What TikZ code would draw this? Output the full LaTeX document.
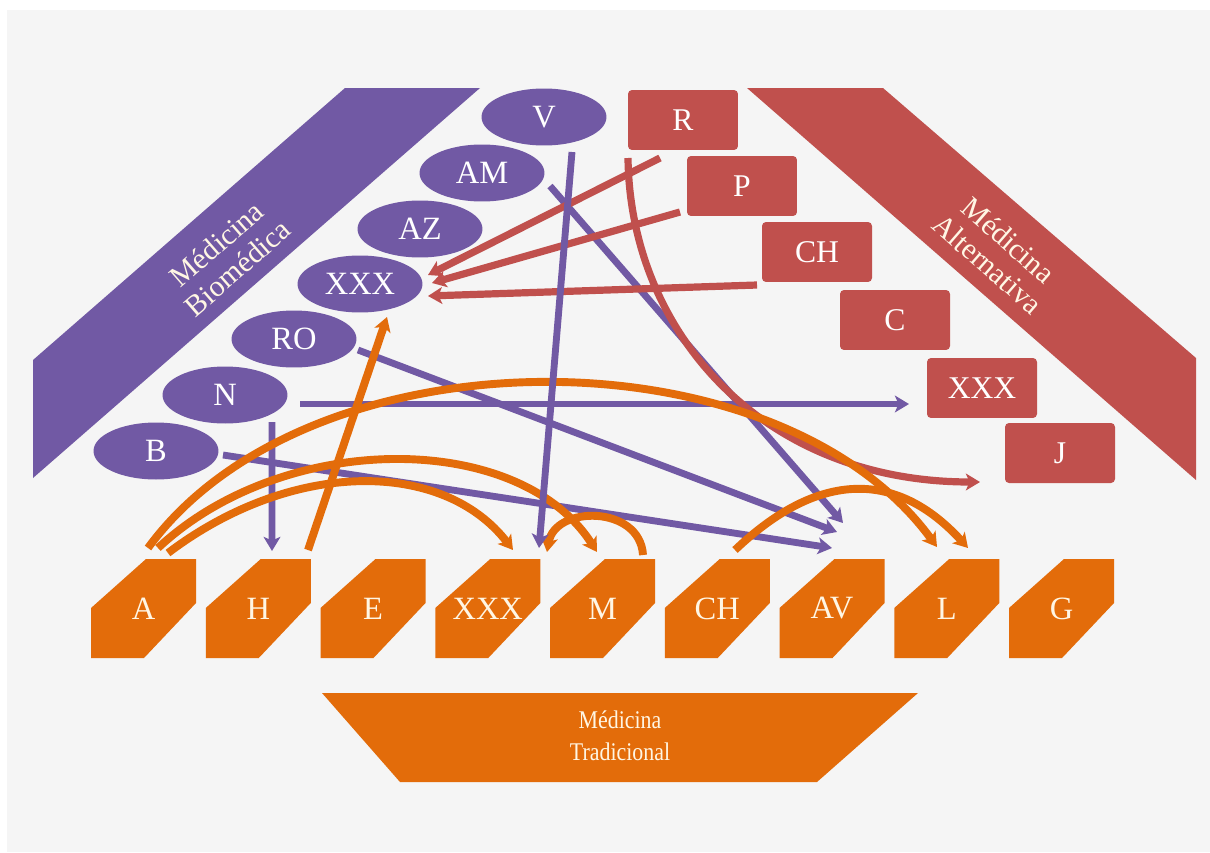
\documentclass[tikz,border=0pt]{standalone}
\usepackage{fontspec}
\setmainfont{Liberation Serif}
\usetikzlibrary{arrows.meta,shapes.geometric}
\definecolor{bgc}{HTML}{F5F5F5}
\definecolor{bio}{HTML}{7159A4}
\definecolor{alt}{HTML}{C0504D}
\definecolor{tra}{HTML}{E36C0A}
\definecolor{cream}{HTML}{FFF6E4}
\begin{document}
\begin{tikzpicture}[x=0.02cm,y=-0.02cm,
  bioell/.style={ellipse, fill=bio, minimum width=2.5cm, minimum height=1.14cm, inner sep=0pt, text=white, font=\fontsize{18.5}{20}\selectfont},
  altbox/.style={rectangle, rounded corners=0.08cm, fill=alt, minimum width=2.2cm, minimum height=1.2cm, inner sep=0pt, text=white, font=\fontsize{18}{20}\selectfont},
  tralab/.style={inner sep=0pt, minimum width=2.1cm, minimum height=1.98cm, text=cream, font=\fontsize{18.5}{20}\selectfont},
  bandtext/.style={text=cream, align=center, inner sep=0pt, font=\fontsize{17}{18}\selectfont},
  tip/.style={-{Stealth[length=8pt,width=9.5pt,inset=2pt]}},
  biol/.style={tip, draw=bio, line width=3.9pt},
  altl/.style={tip, draw=alt, line width=4.1pt},
  tral/.style={tip, draw=tra, line width=4.5pt},
]
\useasboundingbox (0,0) rectangle (1210,852);
\fill[white] (0,0) rectangle (1210,852);
\fill[bgc] (7,10) rectangle (1210,852);

% bands
\fill[bio] (345,88) -- (480,88) -- (33,478) -- (33,360) -- cycle;
\node[bandtext, rotate=41] (bandbio) at (227,256) {Médicina\\Biomédica};
\fill[alt] (747,88) -- (883,88) -- (1196,358) -- (1196,480) -- cycle;
\node[bandtext, rotate=-41] (bandalt) at (998,252) {Médicina\\Alternativa};
\fill[tra] (322,693) -- (918,693) -- (817,782) -- (400,782) -- cycle;
\node[bandtext, font=\fontsize{14.5}{18}\selectfont, xscale=0.86] (bandtra) at (620,736) {Médicina\\Tradicional};

% biomedical ellipses
\node[bioell] (V) at (544,117) {V};
\node[bioell] (AM) at (482,173) {AM};
\node[bioell] (AZ) at (420,229) {AZ};
\node[bioell] (bX) at (360,284) {XXX};
\node[bioell] (RO) at (294,339) {RO};
\node[bioell] (N) at (225,395) {N};
\node[bioell] (B) at (156,451) {B};

% alternative boxes
\node[altbox] (R) at (683,120) {R};
\node[altbox] (P) at (742,186) {P};
\node[altbox] (aCH) at (817,252) {CH};
\node[altbox] (C) at (895,320) {C};
\node[altbox] (aX) at (982,388) {XXX};
\node[altbox] (J) at (1060,453) {J};

% traditional boxes
\foreach \i/\nm/\lab in {0/tA/A,1/tH/H,2/tE/E,3/tX/XXX,4/tM/M,5/tCH/CH,6/tAV/AV,7/tL/L,8/tG/G}{
  \pgfmathsetmacro{\xl}{91+114.75*\i}
  \fill[tra] (\xl+55,559) -- (\xl+105,559) -- (\xl+105,603) -- (\xl+53,658) -- (\xl,658) -- (\xl,608) -- cycle;
  \node[tralab] (\nm) at (\xl+52.5,608.5) {\lab};
}

% purple connectors
\draw[biol] ([shift={(68,13)}]AM.center) -- ([shift={(11,-85.5)}]tAV.center);
\draw[biol] ([shift={(64,11)}]RO.center) -- ([shift={(5,-76.5)}]tAV.center);
\draw[biol] ([shift={(75,9)}]N.center) -- ([shift={(-73,16)}]aX.center);
\draw[biol] ([shift={(47,27)}]N.center) -- ([shift={(13.75,-57.5)}]tH.center);
\draw[biol] ([shift={(67,4)}]B.center) -- ([shift={(0,-60.5)}]tAV.center);

% red connectors
\draw[altl] ([shift={(-23,38)}]R.center) -- ([shift={(68,-9)}]bX.center);
\draw[altl] ([shift={(-62,26)}]P.center) -- ([shift={(72,-1)}]bX.center);
\draw[altl] ([shift={(-60,33)}]aCH.center) -- ([shift={(68,12)}]bX.center);
\draw[altl] ([shift={(-55,38)}]R.center) .. controls (630,330) and (760,482) .. ([shift={(-80,29)}]J.center);

% orange connectors
\draw[tral] ([shift={(49.75,-58.5)}]tH.center) -- ([shift={(27,33)}]bX.center);
\draw[tral] ([shift={(4.5,-60.5)}]tA.center) .. controls (309,328) and (777,328) .. ([shift={(-9.75,-61.5)}]tL.center);
\draw[tral] ([shift={(14.5,-60.5)}]tA.center) .. controls (284,430) and (519,430) .. ([shift={(-5.5,-56.5)}]tM.center);
\draw[tral] ([shift={(24.5,-55.5)}]tA.center) .. controls (292,459) and (443,459) .. ([shift={(25.25,-58.5)}]tX.center);
\draw[tral] ([shift={(40.5,-53.5)}]tM.center) .. controls (640,505) and (555,505) .. ([shift={(59.25,-56.5)}]tX.center);
\draw[tral] ([shift={(17.75,-58.5)}]tCH.center) .. controls (819,470) and (897,470) .. ([shift={(21.25,-60.5)}]tL.center);

% V line on top
\draw[biol] ([shift={(28,35)}]V.center) -- ([shift={(51.25,-60.5)}]tX.center);
\end{tikzpicture}
\end{document}
